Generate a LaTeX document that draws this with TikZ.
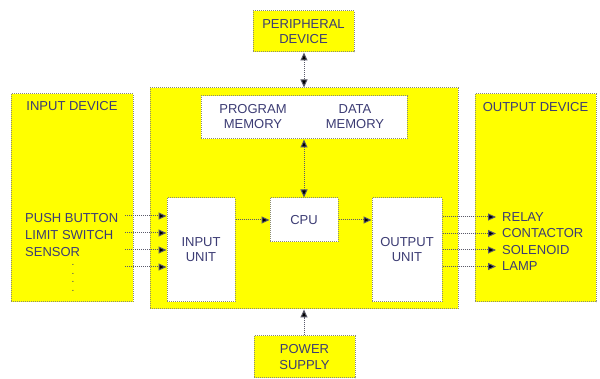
\documentclass[tikz,border=0pt]{standalone}
\usepackage{fontspec}
\setmainfont{Liberation Sans}
\usetikzlibrary{arrows.meta}
\definecolor{plcyellow}{HTML}{FFFF00}
\definecolor{plctext}{HTML}{3C3C74}
\definecolor{plcedge}{HTML}{8C8C70}
\definecolor{plcline}{HTML}{5A5A6A}
\begin{document}
\begin{tikzpicture}[x=1pt,y=-1pt,
  box/.style={draw=plcedge, densely dotted, line width=1pt, fill=plcyellow, inner sep=0pt},
  wbox/.style={draw=plcedge, densely dotted, line width=1pt, fill=white, inner sep=0pt},
  lbl/.style={text=plctext, font=\fontsize{13}{15.5}\selectfont, inner sep=0pt, align=center},
  item/.style={text=plctext, font=\fontsize{13}{15.5}\selectfont, inner sep=0pt, anchor=west},
  conn/.style={draw=plcline, densely dotted, line width=1pt, -{Triangle[length=8pt,width=7pt,fill=black]}},
  bconn/.style={draw=plcline, densely dotted, line width=1pt, {Triangle[length=8pt,width=7pt,fill=black]}-{Triangle[length=8pt,width=7pt,fill=black]}}
]
\useasboundingbox[fill=white] (0,0) rectangle (600,379);

% outer boxes
\node[box, minimum width=308pt, minimum height=221pt] (main) at (304,198.5) {};
\node[box, minimum width=122pt, minimum height=208pt] (indev) at (72,198) {};
\node[box, minimum width=121pt, minimum height=208pt] (outdev) at (535.5,198) {};
\node[box, minimum width=101pt, minimum height=41pt] (peri) at (303.5,31.5) {};
\node[box, minimum width=101pt, minimum height=42pt] (power) at (304.5,357) {};

% inner boxes
\node[wbox, minimum width=206pt, minimum height=43pt] (mem) at (304,117.5) {};
\node[wbox, minimum width=68pt, minimum height=44pt] (cpu) at (304,220) {};
\node[wbox, minimum width=68pt, minimum height=104pt] (iu) at (201,250) {};
\node[wbox, minimum width=70pt, minimum height=104pt] (ou) at (407,250) {};

% labels
\node[lbl] (periT) at (peri) {PERIPHERAL\\DEVICE};
\node[lbl] (powerT) at (power) {POWER\\SUPPLY};
\node[lbl] (progT) at (253,116.5) {PROGRAM\\MEMORY};
\node[lbl] (dataT) at (355,116.5) {DATA\\MEMORY};
\node[lbl] (cpuT) at (cpu) {CPU};
\node[lbl] (iuT) at (201,249.5) {INPUT\\UNIT};
\node[lbl] (ouT) at (407,249.5) {OUTPUT\\UNIT};
\node[lbl] (indevT) at (72,106) {INPUT DEVICE};
\node[lbl] (outdevT) at (535.5,107) {OUTPUT DEVICE};

\node[item] (pb) at (25,218) {PUSH BUTTON};
\node[item] (ls) at (25,235) {LIMIT SWITCH};
\node[item] (se) at (25,252) {SENSOR};
\node[text=plctext, inner sep=0pt, align=center, font=\fontsize{10}{8.5}\selectfont] (dots) at (73,278) {.\\.\\.\\.};

\node[item] (re) at (502,217) {RELAY};
\node[item] (co) at (502,233.5) {CONTACTOR};
\node[item] (so) at (502,250) {SOLENOID};
\node[item] (la) at (502,266.5) {LAMP};

% free ends
\coordinate (i1) at (125,216);
\coordinate (i2) at (125,233);
\coordinate (i3) at (125,250);
\coordinate (i4) at (125,267);
\coordinate (o1) at (496,217);
\coordinate (o2) at (496,233.5);
\coordinate (o3) at (496,250);
\coordinate (o4) at (496,266.5);

% connectors
\draw[bconn] (peri.south -| main.north) -- (main.north);
\draw[bconn] (mem.south) -- (cpu.north);
\draw[conn] (iu.east |- cpu.west) -- (cpu.west);
\draw[conn] (cpu.east) -- (ou.west |- cpu.east);
\draw[conn] (power.north -| main.south) -- (main.south);
\foreach \k in {1,2,3,4} {
  \draw[conn] (i\k) -- (iu.west |- i\k);
  \draw[conn] (ou.east |- o\k) -- (o\k);
}
\end{tikzpicture}
\end{document}
